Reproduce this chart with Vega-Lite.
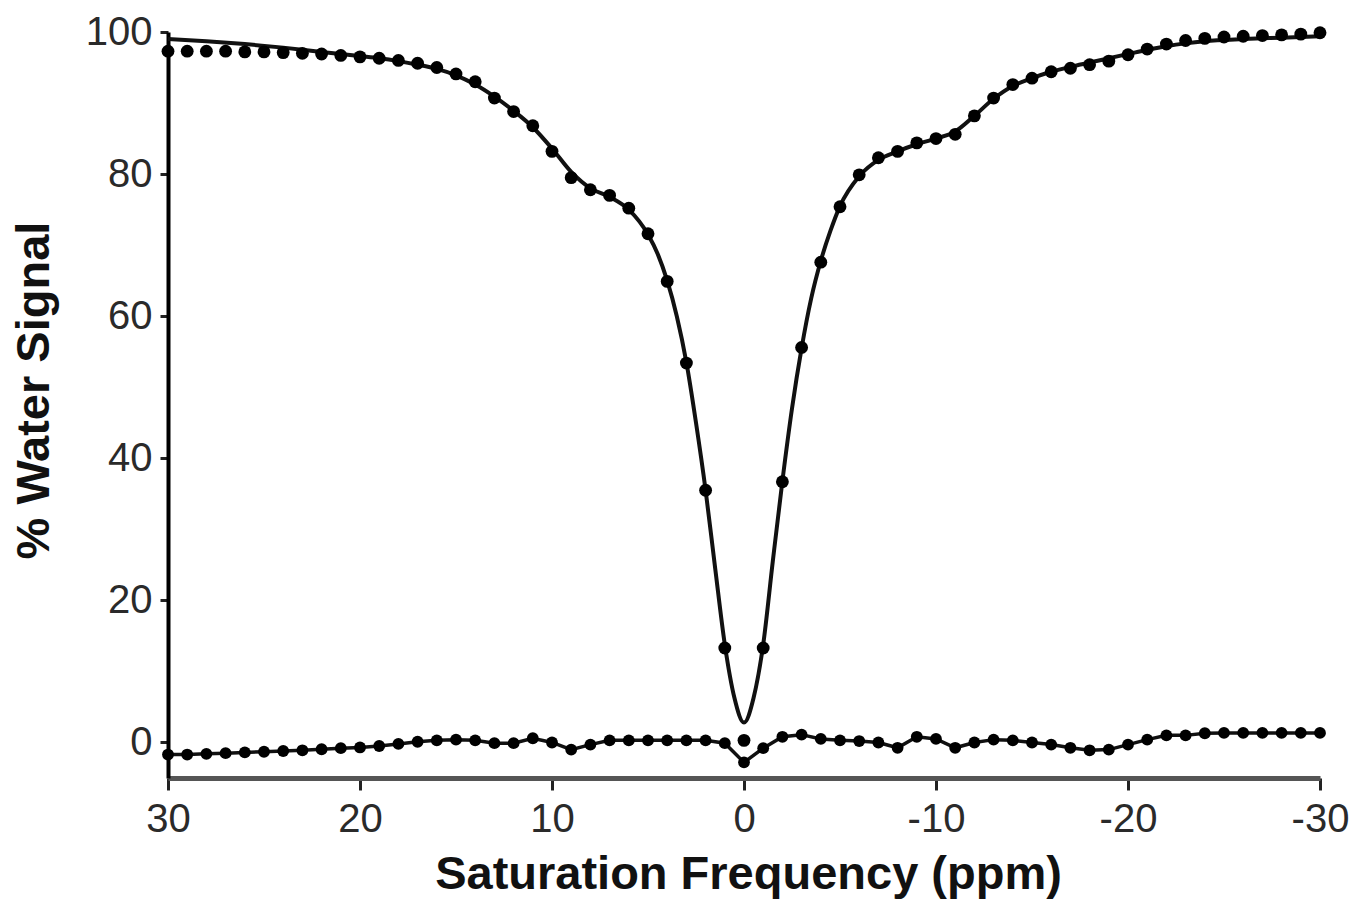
{
  "$schema": "https://vega.github.io/schema/vega-lite/v6.json",
  "width": 1152,
  "height": 746,
  "autosize": "none",
  "padding": {"left": 168, "top": 32, "right": 35, "bottom": 121},
  "background": "white",
  "config": {"view": {"stroke": null}, "font": "Liberation Sans"},
  "datasets": {
    "measured": [
      {"ppm": 30, "value": 97.3}, {"ppm": 29, "value": 97.3}, {"ppm": 28, "value": 97.3}, {"ppm": 27, "value": 97.3},
      {"ppm": 26, "value": 97.2}, {"ppm": 25, "value": 97.2}, {"ppm": 24, "value": 97.1}, {"ppm": 23, "value": 97.0},
      {"ppm": 22, "value": 96.9}, {"ppm": 21, "value": 96.7}, {"ppm": 20, "value": 96.5}, {"ppm": 19, "value": 96.3},
      {"ppm": 18, "value": 96.0}, {"ppm": 17, "value": 95.6}, {"ppm": 16, "value": 95.0}, {"ppm": 15, "value": 94.1},
      {"ppm": 14, "value": 93.0}, {"ppm": 13, "value": 90.7}, {"ppm": 12, "value": 88.8}, {"ppm": 11, "value": 86.8},
      {"ppm": 10, "value": 83.2}, {"ppm": 9, "value": 79.5}, {"ppm": 8, "value": 77.8}, {"ppm": 7, "value": 77.0},
      {"ppm": 6, "value": 75.2}, {"ppm": 5, "value": 71.6}, {"ppm": 4, "value": 64.9}, {"ppm": 3, "value": 53.4},
      {"ppm": 2, "value": 35.5}, {"ppm": 1, "value": 13.3}, {"ppm": 0, "value": 0.3}, {"ppm": -1, "value": 13.3},
      {"ppm": -2, "value": 36.7}, {"ppm": -3, "value": 55.6}, {"ppm": -4, "value": 67.6}, {"ppm": -5, "value": 75.4},
      {"ppm": -6, "value": 79.9}, {"ppm": -7, "value": 82.3}, {"ppm": -8, "value": 83.2}, {"ppm": -9, "value": 84.4},
      {"ppm": -10, "value": 85.0}, {"ppm": -11, "value": 85.6}, {"ppm": -12, "value": 88.2}, {"ppm": -13, "value": 90.7},
      {"ppm": -14, "value": 92.6}, {"ppm": -15, "value": 93.5}, {"ppm": -16, "value": 94.4}, {"ppm": -17, "value": 94.9},
      {"ppm": -18, "value": 95.4}, {"ppm": -19, "value": 95.9}, {"ppm": -20, "value": 96.8}, {"ppm": -21, "value": 97.6},
      {"ppm": -22, "value": 98.3}, {"ppm": -23, "value": 98.8}, {"ppm": -24, "value": 99.1}, {"ppm": -25, "value": 99.3},
      {"ppm": -26, "value": 99.4}, {"ppm": -27, "value": 99.5}, {"ppm": -28, "value": 99.6}, {"ppm": -29, "value": 99.7},
      {"ppm": -30, "value": 99.9}
    ],
    "fit": [
      {"ppm": 30, "value": 99.0}, {"ppm": 28, "value": 98.7}, {"ppm": 26, "value": 98.3}, {"ppm": 24, "value": 97.8},
      {"ppm": 22, "value": 97.2}, {"ppm": 20, "value": 96.6}, {"ppm": 19, "value": 96.3}, {"ppm": 18, "value": 95.9},
      {"ppm": 17, "value": 95.4}, {"ppm": 16, "value": 94.8}, {"ppm": 15, "value": 93.9}, {"ppm": 14, "value": 92.6},
      {"ppm": 13, "value": 90.9}, {"ppm": 12, "value": 88.9}, {"ppm": 11, "value": 86.6}, {"ppm": 10, "value": 83.6},
      {"ppm": 9, "value": 80.3}, {"ppm": 8, "value": 78.0}, {"ppm": 7, "value": 76.8}, {"ppm": 6, "value": 75.0},
      {"ppm": 5, "value": 71.5}, {"ppm": 4.5, "value": 68.8}, {"ppm": 4, "value": 65.0}, {"ppm": 3.5, "value": 60.0},
      {"ppm": 3, "value": 53.5}, {"ppm": 2.5, "value": 45.0}, {"ppm": 2, "value": 35.5}, {"ppm": 1.5, "value": 24.5},
      {"ppm": 1, "value": 13.8}, {"ppm": 0.5, "value": 6.3}, {"ppm": 0, "value": 2.8}, {"ppm": -0.5, "value": 6.3},
      {"ppm": -1, "value": 13.8}, {"ppm": -1.5, "value": 25.5}, {"ppm": -2, "value": 36.8}, {"ppm": -2.5, "value": 47.0},
      {"ppm": -3, "value": 55.5}, {"ppm": -3.5, "value": 62.5}, {"ppm": -4, "value": 67.8}, {"ppm": -4.5, "value": 72.0},
      {"ppm": -5, "value": 75.5}, {"ppm": -6, "value": 79.7}, {"ppm": -7, "value": 82.0}, {"ppm": -8, "value": 83.2},
      {"ppm": -9, "value": 84.2}, {"ppm": -10, "value": 85.0}, {"ppm": -11, "value": 86.0}, {"ppm": -12, "value": 88.2},
      {"ppm": -13, "value": 90.6}, {"ppm": -14, "value": 92.4}, {"ppm": -15, "value": 93.5}, {"ppm": -16, "value": 94.4},
      {"ppm": -17, "value": 95.1}, {"ppm": -18, "value": 95.7}, {"ppm": -19, "value": 96.3}, {"ppm": -20, "value": 96.9},
      {"ppm": -21, "value": 97.5}, {"ppm": -22, "value": 98.0}, {"ppm": -23, "value": 98.4}, {"ppm": -24, "value": 98.7},
      {"ppm": -26, "value": 99.0}, {"ppm": -28, "value": 99.2}, {"ppm": -30, "value": 99.4}
    ],
    "residual": [
      {"ppm": 30, "value": -1.7}, {"ppm": 29, "value": -1.7}, {"ppm": 28, "value": -1.6}, {"ppm": 27, "value": -1.5},
      {"ppm": 26, "value": -1.4}, {"ppm": 25, "value": -1.3}, {"ppm": 24, "value": -1.2}, {"ppm": 23, "value": -1.1},
      {"ppm": 22, "value": -0.95}, {"ppm": 21, "value": -0.8}, {"ppm": 20, "value": -0.7}, {"ppm": 19, "value": -0.5},
      {"ppm": 18, "value": -0.2}, {"ppm": 17, "value": 0.1}, {"ppm": 16, "value": 0.3}, {"ppm": 15, "value": 0.4},
      {"ppm": 14, "value": 0.3}, {"ppm": 13, "value": -0.1}, {"ppm": 12, "value": -0.1}, {"ppm": 11, "value": 0.6},
      {"ppm": 10, "value": 0.0}, {"ppm": 9, "value": -1.0}, {"ppm": 8, "value": -0.3}, {"ppm": 7, "value": 0.3},
      {"ppm": 6, "value": 0.3}, {"ppm": 5, "value": 0.3}, {"ppm": 4, "value": 0.3}, {"ppm": 3, "value": 0.3},
      {"ppm": 2, "value": 0.3}, {"ppm": 1, "value": -0.1}, {"ppm": 0, "value": -2.8}, {"ppm": -1, "value": -0.8},
      {"ppm": -2, "value": 0.8}, {"ppm": -3, "value": 1.1}, {"ppm": -4, "value": 0.5}, {"ppm": -5, "value": 0.3},
      {"ppm": -6, "value": 0.2}, {"ppm": -7, "value": 0.0}, {"ppm": -8, "value": -0.75}, {"ppm": -9, "value": 0.8},
      {"ppm": -10, "value": 0.5}, {"ppm": -11, "value": -0.75}, {"ppm": -12, "value": 0.0}, {"ppm": -13, "value": 0.4},
      {"ppm": -14, "value": 0.3}, {"ppm": -15, "value": 0.0}, {"ppm": -16, "value": -0.3}, {"ppm": -17, "value": -0.75},
      {"ppm": -18, "value": -1.1}, {"ppm": -19, "value": -1.0}, {"ppm": -20, "value": -0.3}, {"ppm": -21, "value": 0.4},
      {"ppm": -22, "value": 1.0}, {"ppm": -23, "value": 1.0}, {"ppm": -24, "value": 1.3}, {"ppm": -25, "value": 1.35},
      {"ppm": -26, "value": 1.35}, {"ppm": -27, "value": 1.35}, {"ppm": -28, "value": 1.35}, {"ppm": -29, "value": 1.35},
      {"ppm": -30, "value": 1.35}
    ]
  },
  "encoding": {
    "x": {
      "field": "ppm", "type": "quantitative",
      "scale": {"domain": [-30, 30], "reverse": true, "nice": false, "zero": false},
      "axis": {
        "values": [30, 20, 10, 0, -10, -20, -30],
        "labelExpr": "'' + datum.value",
        "title": "Saturation Frequency (ppm)",
        "titleFont": "Liberation Sans", "titleFontSize": 47, "titleFontWeight": "bold", "titleColor": "#111",
        "titleX": 580, "titleY": 96, "titleBaseline": "middle", "titleAnchor": null,
        "labelFont": "Liberation Sans", "labelFontSize": 40, "labelColor": "#2a2a2a", "labelPadding": 9,
        "labelFlush": false, "labelOverlap": false,
        "domainColor": "#555", "domainWidth": 5,
        "tickColor": "#222", "tickWidth": 3, "tickSize": 12,
        "grid": false
      }
    },
    "y": {
      "field": "value", "type": "quantitative",
      "scale": {"domain": [-5, 100], "nice": false, "zero": false},
      "axis": {
        "values": [0, 20, 40, 60, 80, 100],
        "title": "% Water Signal",
        "titleFont": "Liberation Sans", "titleFontSize": 47, "titleFontWeight": "bold", "titleColor": "#111",
        "titleX": -134, "titleY": 358, "titleAngle": -90, "titleBaseline": "middle", "titleAlign": "center", "titleAnchor": null,
        "labelFont": "Liberation Sans", "labelFontSize": 40, "labelColor": "#2a2a2a", "labelPadding": 8,
        "labelFlush": false, "labelOverlap": false,
        "domainColor": "#000", "domainWidth": 4,
        "tickColor": "#222", "tickWidth": 3, "tickSize": 8,
        "grid": false
      }
    }
  },
  "layer": [
    {
      "data": {"name": "fit"},
      "mark": {"type": "line", "color": "#111", "strokeWidth": 4, "interpolate": "monotone"},
      "encoding": {}
    },
    {
      "data": {"name": "residual"},
      "mark": {"type": "line", "color": "#111", "strokeWidth": 3.5},
      "encoding": {}
    },
    {
      "data": {"name": "residual"},
      "mark": {"type": "point", "shape": "circle", "filled": true, "color": "#000", "opacity": 1, "size": 140},
      "encoding": {}
    },
    {
      "data": {"name": "measured"},
      "mark": {"type": "point", "shape": "circle", "filled": true, "color": "#000", "opacity": 1, "size": 165},
      "encoding": {}
    }
  ]
}
